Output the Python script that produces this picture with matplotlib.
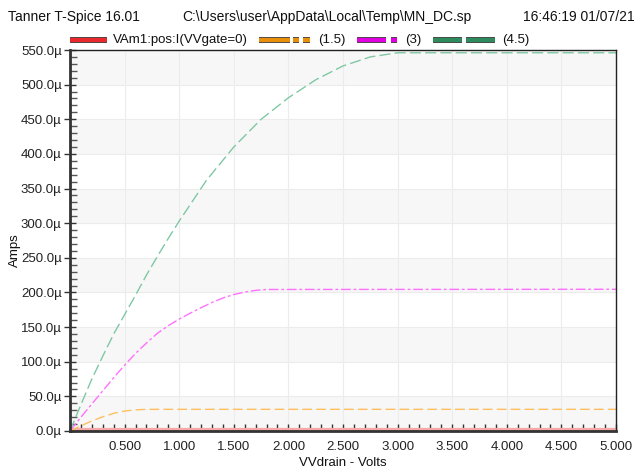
import numpy as np
import matplotlib.pyplot as plt
from matplotlib.lines import Line2D
import matplotlib.patheffects as pe

plt.rcParams['font.family'] = ['Liberation Sans', 'DejaVu Sans']

# drain voltage samples (V) and drain currents (uA)
vd_0 = [0.0, 5.0]
id_0 = [0.0, 0.0]

vd_15 = [0.0, 0.1, 0.2, 0.3, 0.4, 0.5, 0.6, 0.7, 0.8, 5.0]
id_15 = [0.0, 7.5, 14.5, 20.5, 25.5, 28.8, 30.6, 31.2, 31.3, 31.3]

vd_30 = [0.0, 0.1, 0.2, 0.3, 0.4, 0.5, 0.6, 0.7, 0.8, 0.9, 1.0, 1.1, 1.2, 1.3,
         1.4, 1.5, 1.6, 1.7, 1.8, 5.0]
id_30 = [0.0, 20.0, 39.0, 58.0, 77.0, 95.0, 112.0, 127.0, 141.0, 152.0, 161.5,
         170.0, 178.0, 185.5, 192.0, 197.0, 200.5, 203.0, 204.3, 204.6]

vd_45 = [0.0, 0.1, 0.2, 0.3, 0.4, 0.5, 0.6, 0.7, 0.8, 0.9, 1.0, 1.25, 1.5, 1.75,
         2.0, 2.25, 2.5, 2.75, 3.0, 5.0]
id_45 = [0.0, 38.0, 75.0, 108.0, 140.0, 168.0, 196.0, 225.0, 252.0, 278.0, 303.0,
         362.0, 410.0, 450.0, 481.0, 507.0, 527.0, 540.0, 546.0, 546.0]

series_names = ['VAm1:pos:I(VVgate=0)', '(1.5)', '(3)', '(4.5)']
legend_colors = ['#e8282c', '#e8900c', '#e000e0', '#2e8b5e']
line_colors = ['#f6a8a8', '#ffbf60', '#ff70ff', '#7fc8a4']

W, H = 636, 468
fig = plt.figure(figsize=(W / 100, H / 100), dpi=100)
ax = fig.add_axes([70 / W, 1 - 431 / H, 546 / W, 381 / H])

# alternating bands
for lo in range(0, 550, 100):
    ax.axhspan(lo, lo + 50, color='#f7f7f7', zorder=0, lw=0)
for yv in range(0, 551, 50):
    ax.axhline(yv, color='#ececec', lw=0.8, zorder=0.5)
for xv in np.arange(0.5, 5.0, 0.5):
    ax.axvline(xv, color='#ececec', lw=0.8, zorder=0.5)

ax.plot(vd_0, id_0, color=line_colors[0], lw=4.5, solid_capstyle='butt', zorder=2)
ax.plot(vd_15, id_15, color=line_colors[1], lw=1, dashes=(7, 3))
ax.plot(vd_30, id_30, color=line_colors[2], lw=1, dashes=(7, 2, 2, 2))
ax.plot(vd_45, id_45, color=line_colors[3], lw=1, dashes=(8, 3))

ax.set_xlim(0, 5)
ax.set_ylim(0, 550)
xt = np.arange(0.5, 5.01, 0.5)
ax.set_xticks(xt)
ax.set_xticklabels(['%.3f' % v for v in xt])
ax.set_xticks(np.arange(0, 5.01, 0.1), minor=True)
yt = np.arange(0, 551, 50)
ax.set_yticks(yt)
ax.set_yticklabels(['%.1f\u00b5' % v for v in yt])
ax.set_yticks(np.arange(0, 551, 10), minor=True)

ax.tick_params(axis='x', which='both', direction='in', length=5, width=1,
               color='#333333', labelsize=9.5, pad=7, labelcolor='#222222')
ax.tick_params(axis='y', which='major', direction='inout', length=8, width=1,
               color='#333333', labelsize=9.5, pad=2, labelcolor='#222222')
ax.tick_params(axis='y', which='minor', direction='in', length=5, width=1, color='#555555')

for side in ['left', 'bottom']:
    ax.spines[side].set_linewidth(2)
    ax.spines[side].set_color('#333333')
    ax.spines[side].set_zorder(3)
for side in ['top', 'right']:
    ax.spines[side].set_linewidth(1)
    ax.spines[side].set_color('#222222')

# legend drawn by hand: bar segments (pixel x ranges) and label position
legend_bars = [
    [(70, 107)],
    [(259, 290), (293, 299), (303, 310)],
    [(357, 386), (391, 397)],
    [(433, 462), (466, 495)],
]
legend_text_x = [113, 318, 405, 502]
ly = 1 - 40 / H
for segs, c, name, tx in zip(legend_bars, legend_colors, series_names, legend_text_x):
    for a, b in segs:
        fig.add_artist(Line2D([a / W, b / W], [ly, ly], color=c, lw=3, solid_capstyle='butt',
                              path_effects=[pe.Stroke(linewidth=4.2, foreground='#3a3a3a'),
                                            pe.Normal()]))
    fig.text(tx / W, ly, name, fontsize=9.5, va='center', color='#111111')

# header
fig.text(8 / W, 1 - 17 / H, 'Tanner T-Spice 16.01', fontsize=10, va='center', color='#111111')
fig.text(182 / W, 1 - 17 / H, 'C:\\Users\\user\\AppData\\Local\\Temp\\MN_DC.sp',
         fontsize=10, va='center', color='#111111')
fig.text(635 / W, 1 - 17 / H, '16:46:19 01/07/21', fontsize=10, va='center', ha='right',
         color='#111111')

fig.text(15 / W, 1 - 250 / H, 'Amps', fontsize=9.5, rotation=90, va='center', ha='center',
         color='#111111')
fig.text(343 / W, 1 - 457 / H, 'VVdrain - Volts', fontsize=9.5, va='top', ha='center',
         color='#111111')

fig.savefig('out.png', dpi=100)
